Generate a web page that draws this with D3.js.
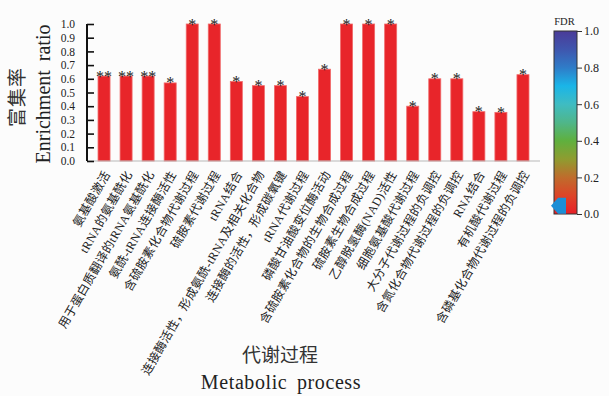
<!DOCTYPE html>
<html>
<head>
<meta charset="utf-8">
<script src="https://cdn.jsdelivr.net/npm/d3@7/dist/d3.min.js"></script>
<style>
  html, body { margin: 0; padding: 0; background: #fcfcfc; }
  svg { display: block; }
</style>
</head>
<body>
<svg id="chart" width="609" height="396"></svg>
<script>
// GO terms (metabolic processes) and their enrichment ratios
const categories = [
  "氨基酸激活",
  "tRNA的氨基酰化",
  "用于蛋白质翻译的tRNA氨基酰化",
  "氨酰-tRNA连接酶活性",
  "含硫胺素化合物代谢过程",
  "硫胺素代谢过程",
  "tRNA结合",
  "连接酶活性，形成氨酰-tRNA及相关化合物",
  "连接酶的活性，形成碳氧键",
  "tRNA代谢过程",
  "磷酸甘油酸变位酶活动",
  "含硫胺素化合物的生物合成过程",
  "硫胺素生物合成过程",
  "乙醇脱氢酶(NAD)活性",
  "细胞氨基酸代谢过程",
  "大分子代谢过程的负调控",
  "含氮化合物代谢过程的负调控",
  "RNA结合",
  "有机酸代谢过程",
  "含磷基化合物代谢过程的负调控"
];
const ratios = [0.62, 0.62, 0.62, 0.57, 1.0, 1.0, 0.58, 0.55, 0.55, 0.47,
                0.67, 1.0, 1.0, 1.0, 0.40, 0.60, 0.60, 0.36, 0.355, 0.63];
const stars = ["**", "**", "**", "*", "*", "*", "*", "*", "*", "*",
               "*", "*", "*", "*", "*", "*", "*", "*", "*", "*"];
const yTicks = [0, 0.1, 0.2, 0.3, 0.4, 0.5, 0.6, 0.7, 0.8, 0.9, 1.0];
const fdrTicks = [0, 0.2, 0.4, 0.6, 0.8, 1.0];
const fdrMarker = 0.045;
// rainbow palette of the FDR colour bar (value -> colour)
const fdrStops = [
  [0.0, "#e81f27"], [0.1, "#dd4428"], [0.2, "#bf6c2c"], [0.3, "#8f9c30"],
  [0.4, "#5fb03e"], [0.5, "#4fb68a"], [0.6, "#3fbcc2"], [0.7, "#1ab5e8"],
  [0.8, "#2f7cc8"], [0.9, "#3f56ae"], [1.0, "#4a3b98"]
];

const serif = "'Liberation Serif', 'Times New Roman', 'Noto Sans CJK SC', serif";
const cjk = "'Liberation Serif', 'Noto Sans CJK SC', serif";

const svg = d3.select("#chart");

const x = d3.scaleBand().domain(categories).range([87, 540])
  .paddingInner(0.455).paddingOuter(0.5);
const y = d3.scaleLinear().domain([0, 1]).range([161, 24]);

// bars
svg.append("g").selectAll("rect").data(categories).join("rect")
  .attr("x", d => x(d))
  .attr("width", x.bandwidth())
  .attr("y", (d, i) => y(ratios[i]))
  .attr("height", (d, i) => y(0) - y(ratios[i]))
  .attr("fill", "#e8252a")
  .attr("stroke", "#f06a6a")
  .attr("stroke-width", 0.8);

// significance stars
svg.append("g").selectAll("text").data(categories).join("text")
  .attr("x", d => x(d) + x.bandwidth() / 2)
  .attr("y", (d, i) => y(ratios[i]) + 5.5)
  .attr("text-anchor", "middle")
  .attr("font-family", serif)
  .attr("font-size", 16)
  .attr("fill", "#222")
  .text((d, i) => stars[i]);

// x baseline
svg.append("line")
  .attr("x1", 87).attr("x2", 540)
  .attr("y1", y(0)).attr("y2", y(0))
  .attr("stroke", "#b8b8b8").attr("stroke-width", 1);

// y axis with inward ticks
const yAxis = d3.axisLeft(y).tickValues(yTicks).tickSize(-7).tickPadding(12)
  .tickFormat(d3.format(".1f"));
const gy = svg.append("g").attr("transform", "translate(87,0)").call(yAxis);
gy.select(".domain").attr("stroke", "#111").attr("stroke-width", 2)
  .attr("d", `M0,${y(1)}V${y(0)}`);
gy.selectAll(".tick line").attr("stroke", "#111").attr("stroke-width", 1.6);
gy.selectAll(".tick text").attr("font-family", serif).attr("font-size", 11.5)
  .attr("fill", "#222");

// rotated category labels
svg.append("g").selectAll("text").data(categories).join("text")
  .attr("transform", d => `translate(${x(d) + x.bandwidth() / 2 + 3},${y(0) + 11}) rotate(-60)`)
  .attr("text-anchor", "end")
  .attr("dy", "0.35em")
  .attr("font-family", cjk)
  .attr("font-size", 12)
  .attr("letter-spacing", 0.4)
  .attr("fill", "#222")
  .text(d => d);

// y axis titles
svg.append("text")
  .attr("transform", "translate(24,97) rotate(-90)")
  .attr("text-anchor", "middle")
  .attr("font-family", "'Noto Sans CJK SC', sans-serif")
  .attr("font-size", 19)
  .attr("letter-spacing", 1)
  .attr("fill", "#333")
  .text("富集率");
svg.append("text")
  .attr("transform", "translate(50,94) rotate(-90)")
  .attr("text-anchor", "middle")
  .attr("font-family", serif)
  .attr("font-size", 20)
  .attr("word-spacing", 4)
  .attr("fill", "#222")
  .text("Enrichment ratio");

// x axis titles
svg.append("text")
  .attr("x", 280).attr("y", 362)
  .attr("text-anchor", "middle")
  .attr("font-family", "'Noto Sans CJK SC', sans-serif")
  .attr("font-size", 19)
  .attr("fill", "#333")
  .text("代谢过程");
svg.append("text")
  .attr("x", 281).attr("y", 389)
  .attr("text-anchor", "middle")
  .attr("font-family", serif)
  .attr("font-size", 20)
  .attr("letter-spacing", 0.6)
  .attr("word-spacing", 4)
  .attr("fill", "#222")
  .text("Metabolic process");

// FDR colour legend
const fy = d3.scaleLinear().domain([0, 1]).range([214, 31]);
const defs = svg.append("defs");
const grad = defs.append("linearGradient").attr("id", "fdrGrad")
  .attr("x1", 0).attr("y1", 1).attr("x2", 0).attr("y2", 0);
grad.selectAll("stop").data(fdrStops).join("stop")
  .attr("offset", d => d[0]).attr("stop-color", d => d[1]);

const lx = 554, lw = 23;
svg.append("rect")
  .attr("x", lx).attr("y", fy(1)).attr("width", lw).attr("height", fy(0) - fy(1))
  .attr("fill", "url(#fdrGrad)").attr("stroke", "#333").attr("stroke-width", 1);

const fAxis = d3.axisRight(fy).tickValues(fdrTicks).tickSize(5).tickPadding(2)
  .tickFormat(d3.format(".1f"));
const gf = svg.append("g").attr("transform", `translate(${lx + lw},0)`).call(fAxis);
gf.select(".domain").remove();
gf.selectAll(".tick line").attr("stroke", "#333");
gf.selectAll(".tick text").attr("font-family", serif).attr("font-size", 12)
  .attr("fill", "#222");

svg.append("text")
  .attr("x", lx + lw / 2 - 1).attr("y", fy(1) - 6)
  .attr("text-anchor", "middle")
  .attr("font-family", serif)
  .attr("font-size", 10.5)
  .attr("fill", "#222")
  .text("FDR");

// pointer marking the FDR level of the bars
const my = fy(fdrMarker);
svg.append("path")
  .attr("d", `M${lx - 3},${my} L${lx + 4},${my - 8} L${lx + 12},${my - 8} L${lx + 12},${my + 8} L${lx + 4},${my + 8} Z`)
  .attr("fill", "#1b8fd6");
</script>
</body>
</html>
